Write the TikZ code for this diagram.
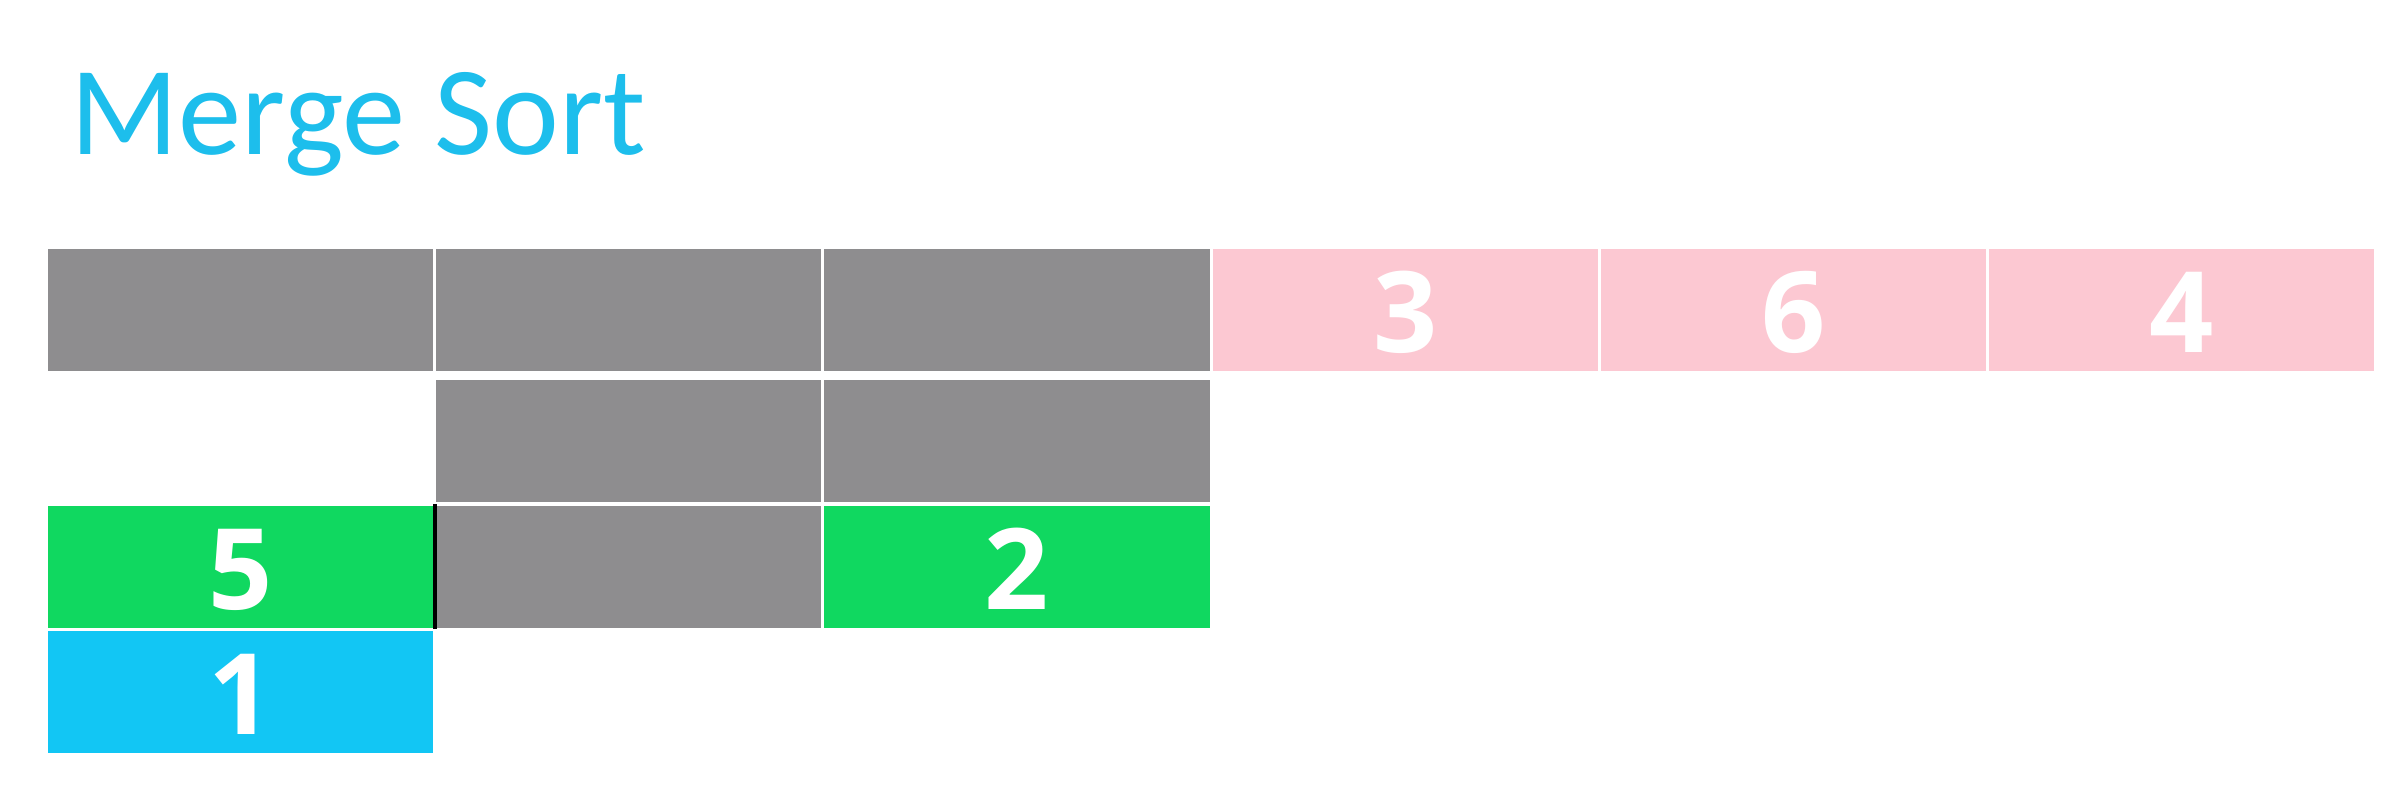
\documentclass[tikz,border=0pt]{standalone}
\usepackage{fontspec}
\setmainfont{Carlito}
\newfontfamily\digitfont{Open Sans}
\usepackage{tikz}
\usetikzlibrary{positioning}
\definecolor{titleblue}{RGB}{29,190,236}
\definecolor{cellgrey}{RGB}{142,141,143}
\definecolor{cellpink}{RGB}{252,200,210}
\definecolor{cellgreen}{RGB}{16,216,96}
\definecolor{cellblue}{RGB}{18,198,244}
\tikzset{%
  cell/.style  = {shape=rectangle, draw=white, line width=0.03cm,%
                  inner sep=0pt, outer sep=0pt,%
                  minimum width=3.882cm, minimum height=1.25cm,%
                  text=white, text height=0.86cm, text depth=0pt,%
                  font=\digitfont\bfseries\fontsize{32}{36}\selectfont},%
  grey/.style  = {cell, fill=cellgrey},%
  pink/.style  = {cell, fill=cellpink},%
  green/.style = {cell, fill=cellgreen},%
  blue/.style  = {cell, fill=cellblue}%
}

\begin{document}
\begin{tikzpicture}[node distance=0pt]
	\useasboundingbox (0,0) rectangle (23.95,7.92);
	\node [anchor=base west, inner sep=0pt, text=titleblue,
		font=\fontsize{36}{40}\selectfont] (title) at (0.70,6.37) {Merge Sort};
	% top row
	\node [grey] (a1) at (2.406,4.82) {};
	\node [grey, right=of a1] (a2) {};
	\node [grey, right=of a2] (a3) {};
	\node [pink, right=of a3] (a4) {3};
	\node [pink, right=of a4] (a5) {6};
	\node [pink, right=of a5] (a6) {4};
	% second row
	\node [grey, below=0.06cm of a2] (b2) {};
	\node [grey, right=of b2] (b3) {};
	% third row
	\node [green, below=0.01cm of b2.south west, anchor=north east] (c1) {5};
	\node [grey, right=of c1] (c2) {};
	\node [green, right=of c2] (c3) {2};
	% fourth row
	\node [blue, below=of c1] (d1) {1};
	\draw [line width=0.04cm, black] (c1.north east) -- (c1.south east);
\end{tikzpicture}
\end{document}
